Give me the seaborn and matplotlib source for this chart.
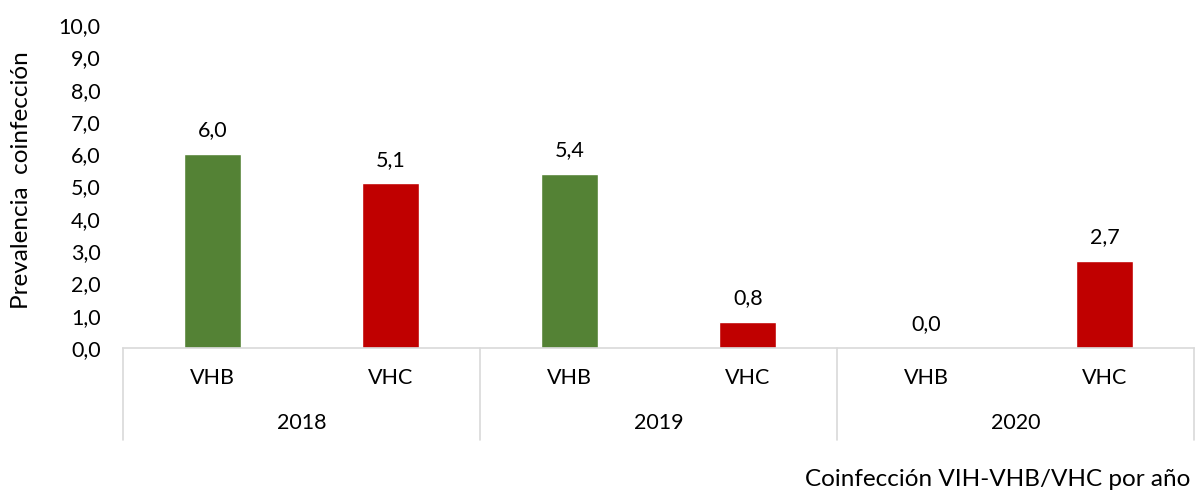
import matplotlib
matplotlib.use("Agg")
import matplotlib.pyplot as plt
import matplotlib.transforms as mtransforms
import seaborn as sns
import pandas as pd

years = ["2018", "2019", "2020"]
viruses = ["VHB", "VHC"]
vhb_values = [6.0, 5.4, 0.0]
vhc_values = [5.1, 0.8, 2.7]
colors = {"VHB": "#548235", "VHC": "#C00000"}

rows = []
for i, y in enumerate(years):
    rows.append({"cat": f"{y} VHB", "virus": "VHB", "year": y, "val": vhb_values[i]})
    rows.append({"cat": f"{y} VHC", "virus": "VHC", "year": y, "val": vhc_values[i]})
df = pd.DataFrame(rows)

sns.set_theme(style="white")
plt.rcParams['font.family'] = ['Lato', 'DejaVu Sans']
FS = 15.5
LFS = 17.5

fig = plt.figure(figsize=(11.96, 4.93), dpi=100)
ax = fig.add_axes([123/1196, 1 - 348/493, (1194 - 123)/1196, (348 - 25)/493])

sns.barplot(data=df, x="cat", y="val", hue="virus", palette=colors, dodge=False,
            width=0.32, ax=ax, legend=False, saturation=1)

ax.set_ylim(0, 10)
ax.set_xlim(-0.5, len(df) - 0.5)
ax.set_yticks(range(0, 11))
ax.set_yticklabels([f"{v:.1f}".replace(".", ",") for v in range(0, 11)], fontsize=FS, color="#000000")
ax.tick_params(axis="y", length=0, pad=16)
ax.tick_params(axis="x", length=0, pad=0)
ax.set_xticks(range(len(df)))
ax.set_xticklabels([])

for s in ["left", "right", "top"]:
    ax.spines[s].set_visible(False)
ax.spines["bottom"].set_color("#D9D9D9")
ax.spines["bottom"].set_linewidth(1.2)

# data labels
for i, v in enumerate(df["val"]):
    ax.annotate(f"{v:.1f}".replace(".", ","), (i, v), xytext=(0, 17), textcoords="offset points",
                ha="center", va="center", fontsize=FS, color="#000000")

trans = mtransforms.blended_transform_factory(ax.transData, ax.transAxes)
axh = (348 - 25)
def ya(pix_y):
    return (348 - pix_y) / axh

# virus labels
for i, v in enumerate(df["virus"]):
    ax.text(i, ya(378), v, transform=trans, ha="center", va="center", fontsize=FS, color="#000000")
# year labels
for j, y in enumerate(years):
    ax.text(2 * j + 0.5, ya(423), y, transform=trans, ha="center", va="center", fontsize=FS, color="#000000")
# separators
for k in range(len(years) + 1):
    x = 2 * k - 0.5
    ax.plot([x, x], [0, ya(440)], transform=trans, color="#D9D9D9", lw=1.2, clip_on=False)

ax.set_xlabel("")
ax.set_ylabel("")
fig.text(22/1196, 1 - 180/493, "Prevalencia  coinfección", rotation=90, ha="center", va="center",
         fontsize=LFS, color="#000000")
fig.text(1190/1196, 1 - 480/493, "Coinfección VIH-VHB/VHC por año", ha="right", va="center",
         fontsize=LFS, color="#000000")

fig.savefig("out.png", dpi=100)
